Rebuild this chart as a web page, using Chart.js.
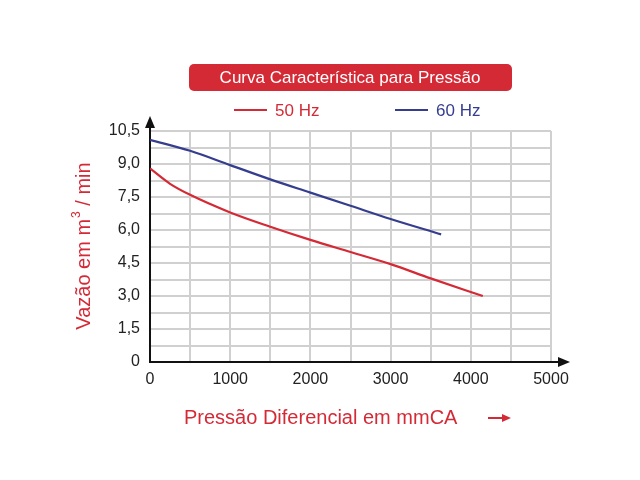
<!DOCTYPE html>
<html>
<head>
<meta charset="utf-8">
<script src="https://cdn.jsdelivr.net/npm/chart.js@4"></script>
<style>
  body { margin: 0; background: #fff; }
  #wrap { width: 640px; height: 480px; }
</style>
</head>
<body>
<div id="wrap"><canvas id="c" width="640" height="480"></canvas></div>
<script>
const pressure50 = [0, 250, 500, 1000, 1500, 2000, 2500, 3000, 3500, 4150];
const flow50 = [8.8, 8.1, 7.6, 6.8, 6.15, 5.55, 5.0, 4.45, 3.8, 3.0];
const pressure60 = [0, 500, 1000, 1500, 2000, 2500, 3000, 3630];
const flow60 = [10.1, 9.6, 8.95, 8.3, 7.7, 7.1, 6.5, 5.8];
const seriesNames = ['50 Hz', '60 Hz'];
const RED = '#d42a36', BLUE = '#353d8f';
const FONT = 'Arial, "Liberation Sans", sans-serif';

const toXY = (xs, ys) => xs.map((x, i) => ({ x: x, y: ys[i] }));

// title box, legend, axis arrows and axis titles
const decor = {
  id: 'decor',
  afterDraw(chart) {
    const ctx = chart.ctx, a = chart.chartArea;
    ctx.save();
    // title
    ctx.fillStyle = RED;
    ctx.beginPath();
    ctx.roundRect(189, 64, 323, 27, 5);
    ctx.fill();
    ctx.fillStyle = '#fff';
    ctx.font = '17px ' + FONT;
    ctx.textAlign = 'center';
    ctx.textBaseline = 'middle';
    ctx.fillText('Curva Característica para Pressão', 350, 78);
    // legend
    ctx.lineWidth = 2;
    ctx.textAlign = 'left';
    ctx.strokeStyle = RED; ctx.beginPath(); ctx.moveTo(234, 110); ctx.lineTo(267, 110); ctx.stroke();
    ctx.fillStyle = RED; ctx.fillText(seriesNames[0], 275, 111);
    ctx.strokeStyle = BLUE; ctx.beginPath(); ctx.moveTo(395, 110); ctx.lineTo(428, 110); ctx.stroke();
    ctx.fillStyle = BLUE; ctx.fillText(seriesNames[1], 436, 111);
    // arrows
    ctx.strokeStyle = '#111'; ctx.fillStyle = '#111'; ctx.lineWidth = 2;
    ctx.beginPath(); ctx.moveTo(a.left, a.top); ctx.lineTo(a.left, 120); ctx.stroke();
    ctx.beginPath(); ctx.moveTo(a.left, 116); ctx.lineTo(a.left - 5, 128); ctx.lineTo(a.left + 5, 128); ctx.closePath(); ctx.fill();
    ctx.beginPath(); ctx.moveTo(a.right, a.bottom); ctx.lineTo(565, a.bottom); ctx.stroke();
    ctx.beginPath(); ctx.moveTo(570, a.bottom); ctx.lineTo(558, a.bottom - 5); ctx.lineTo(558, a.bottom + 5); ctx.closePath(); ctx.fill();
    // x axis title
    ctx.fillStyle = RED;
    ctx.font = '20px ' + FONT;
    ctx.textAlign = 'left';
    ctx.fillText('Pressão Diferencial em mmCA', 184, 418);
    ctx.strokeStyle = RED; ctx.lineWidth = 2;
    ctx.beginPath(); ctx.moveTo(488, 418); ctx.lineTo(505, 418); ctx.stroke();
    ctx.beginPath(); ctx.moveTo(511, 418); ctx.lineTo(502, 414); ctx.lineTo(502, 422); ctx.closePath(); ctx.fill();
    // y axis title with superscript
    ctx.translate(84, 246);
    ctx.rotate(-Math.PI / 2);
    const p1 = 'Vazão em m', p2 = ' / min';
    const w1 = ctx.measureText(p1).width, w2 = ctx.measureText(p2).width;
    ctx.font = '12px ' + FONT;
    const w3 = ctx.measureText('3').width + 1;
    const x0 = -(w1 + w2 + w3) / 2;
    ctx.fillText('3', x0 + w1 + 1, -7);
    ctx.font = '20px ' + FONT;
    ctx.fillText(p1, x0, 0);
    ctx.fillText(p2, x0 + w1 + w3, 0);
    ctx.restore();
  }
};

new Chart(document.getElementById('c'), {
  type: 'line',
  data: {
    datasets: [
      { label: seriesNames[0], data: toXY(pressure50, flow50), borderColor: RED, borderWidth: 2.2, pointRadius: 0, cubicInterpolationMode: 'monotone' },
      { label: seriesNames[1], data: toXY(pressure60, flow60), borderColor: BLUE, borderWidth: 2.2, pointRadius: 0, cubicInterpolationMode: 'monotone' }
    ]
  },
  options: {
    responsive: false,
    animation: false,
    layout: { padding: { top: 131, right: 89, left: 0, bottom: 0 } },
    plugins: { legend: { display: false }, tooltip: { enabled: false } },
    scales: {
      x: {
        type: 'linear', min: 0, max: 5000,
        afterFit: s => { s.height = 118; },
        border: { color: '#111', width: 2 },
        grid: { color: '#d0d0d0', lineWidth: 2, drawTicks: false },
        ticks: {
          stepSize: 500, padding: 8, color: '#222', maxRotation: 0, autoSkip: false,
          font: { size: 16, family: FONT },
          callback: v => (v % 1000 === 0 ? String(v) : '')
        }
      },
      y: {
        min: 0, max: 10.5,
        afterFit: s => { s.width = 150; },
        border: { color: '#111', width: 2 },
        grid: { color: '#d0d0d0', lineWidth: 2, drawTicks: false },
        ticks: {
          stepSize: 0.75, padding: 10, color: '#222', autoSkip: false,
          font: { size: 16, family: FONT },
          callback: v => {
            const r = Math.round(v * 100) / 100;
            if (Math.abs(r / 1.5 - Math.round(r / 1.5)) > 1e-6) return '';
            return r === 0 ? '0' : r.toFixed(1).replace('.', ',');
          }
        }
      }
    }
  },
  plugins: [decor]
});
</script>
</body>
</html>
